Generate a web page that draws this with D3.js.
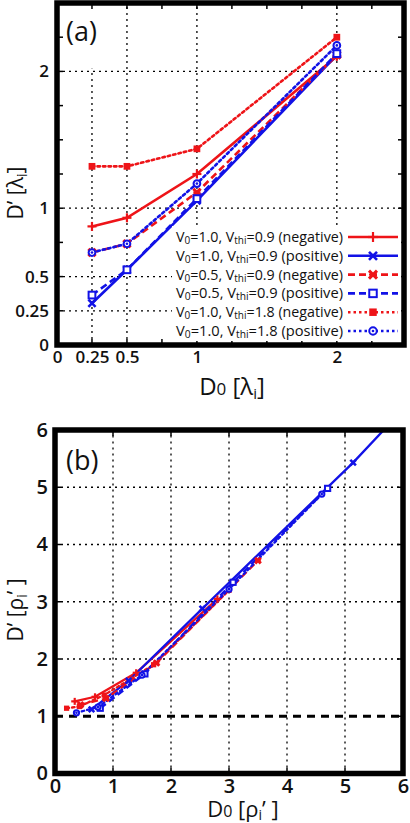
<!DOCTYPE html>
<html><head><meta charset="utf-8">
<script src="https://cdn.jsdelivr.net/npm/d3@7/dist/d3.min.js"></script>
<style>body{margin:0;background:#fff}svg{display:block}</style></head>
<body>
<svg id="c" width="410" height="823"></svg>
<script>
// ---------- DATA ----------
// Panel (a): D0 [lambda_i]
const aD0 = [0.25, 0.5, 1, 2];
const aNeg_V10_T09 = [0.867, 0.93, 1.25, 2.11];
const aPos_V10_T09 = [0.305, 0.55, 1.055, 2.12];
const aNeg_V05_T09 = [0.676, 0.74, 1.116, 2.12];
const aPos_V05_T09 = [0.365, 0.55, 1.07, 2.13];
const aNeg_V10_T18 = [1.306, 1.306, 1.434, 2.25];
const aPos_V10_T18 = [0.676, 0.74, 1.18, 2.19];

// Panel (b): D0 [rho_i'] and D' [rho_i']
const bX_Neg_V10_T09 = [0.34, 0.69, 1.4, 2.8];
const bY_Neg_V10_T09 = [1.26, 1.34, 1.76, 3.05];
const bX_Pos_V10_T09 = [0.63, 1.27, 2.54, 5.14, 5.9];
const bY_Pos_V10_T09 = [1.12, 1.62, 2.88, 5.43, 6.25];
const bX_Neg_V05_T09 = [0.44, 0.88, 1.75, 3.5];
const bY_Neg_V05_T09 = [1.2, 1.31, 1.93, 3.72];
const bX_Pos_V05_T09 = [0.78, 1.55, 3.07, 4.7];
const bY_Pos_V05_T09 = [1.14, 1.74, 3.34, 4.98];
const bX_Neg_V10_T18 = [0.2, 0.42, 0.85, 1.7, 3.0];
const bY_Neg_V10_T18 = [1.14, 1.17, 1.37, 1.9, 3.2];
const bX_Pos_V10_T18 = [0.37, 0.74, 1.5, 3.0, 4.6];
const bY_Pos_V10_T18 = [1.06, 1.16, 1.72, 3.22, 4.88];

// Legend
const legV0 = ["1.0", "1.0", "0.5", "0.5", "1.0", "1.0"];
const legVthi = ["0.9", "0.9", "0.9", "0.9", "1.8", "1.8"];
const legSign = ["negative", "positive", "negative", "positive", "negative", "positive"];

// Ticks
const aTickLabels = [0, 0.25, 0.5, 1, 2];
const aMinorTicks = [0.25, 0.5, 0.75, 1, 1.25, 1.5, 1.75, 2, 2.25];
const aGrid = [0.25, 0.5, 1, 2];
const bTickLabels = [0, 1, 2, 3, 4, 5, 6];

// ---------- STYLE ----------
const RED = "#ee1418", BLUE = "#1212e6";
const styles = [
  {c: RED,  dash: null,    m: "plus"},
  {c: BLUE, dash: null,    m: "cross"},
  {c: RED,  dash: "7,4",   m: "xbold"},
  {c: BLUE, dash: "7,4",   m: "square"},
  {c: RED,  dash: "2.5,3", m: "fsquare"},
  {c: BLUE, dash: "2.5,3", m: "circle"}
];
const aSeries = [aNeg_V10_T09, aPos_V10_T09, aNeg_V05_T09, aPos_V05_T09, aNeg_V10_T18, aPos_V10_T18];
const bSeriesX = [bX_Neg_V10_T09, bX_Pos_V10_T09, bX_Neg_V05_T09, bX_Pos_V05_T09, bX_Neg_V10_T18, bX_Pos_V10_T18];
const bSeriesY = [bY_Neg_V10_T09, bY_Pos_V10_T09, bY_Neg_V05_T09, bY_Pos_V05_T09, bY_Neg_V10_T18, bY_Pos_V10_T18];

const svg = d3.select("#c");
const FONT = "'Open Sans', 'DejaVu Sans', sans-serif";

function marker(g, x, y, type, c, s) {
  if (type === "plus") {
    g.append("line").attr("x1", x - s).attr("x2", x + s).attr("y1", y).attr("y2", y).attr("stroke", c).attr("stroke-width", 2.2);
    g.append("line").attr("x1", x).attr("x2", x).attr("y1", y - s).attr("y2", y + s).attr("stroke", c).attr("stroke-width", 2.2);
  } else if (type === "cross" || type === "xbold") {
    const k = s * 0.8, w = type === "xbold" ? 3 : 2.6;
    g.append("line").attr("x1", x - k).attr("x2", x + k).attr("y1", y - k).attr("y2", y + k).attr("stroke", c).attr("stroke-width", w);
    g.append("line").attr("x1", x - k).attr("x2", x + k).attr("y1", y + k).attr("y2", y - k).attr("stroke", c).attr("stroke-width", w);
    if (type === "xbold") g.append("line").attr("x1", x - k).attr("x2", x + k).attr("y1", y).attr("y2", y).attr("stroke", c).attr("stroke-width", 2);
  } else if (type === "square") {
    const k = s * 0.75;
    g.append("rect").attr("x", x - k).attr("y", y - k).attr("width", 2 * k).attr("height", 2 * k).attr("fill", "#fff").attr("stroke", c).attr("stroke-width", 2);
  } else if (type === "fsquare") {
    const k = s * 0.75;
    g.append("rect").attr("x", x - k).attr("y", y - k).attr("width", 2 * k).attr("height", 2 * k).attr("fill", c);
  } else if (type === "circle") {
    g.append("circle").attr("cx", x).attr("cy", y).attr("r", s * 0.75).attr("fill", "#fff").attr("stroke", c).attr("stroke-width", 2);
    g.append("circle").attr("cx", x).attr("cy", y).attr("r", 1.3).attr("fill", c);
  }
}

// ---------- PANEL (a) ----------
const ax = d3.scaleLinear().domain([0, 2.48]).range([57, 404]);
const ay = d3.scaleLinear().domain([0, 2.5]).range([345, 3]);
const ga = svg.append("g");

// grid
aGrid.forEach(v => {
  ga.append("line").attr("x1", ax(v)).attr("x2", ax(v)).attr("y1", ay(0)).attr("y2", ay(2.5))
    .attr("stroke", "#000").attr("stroke-width", 1.3).attr("stroke-dasharray", "2,4");
  ga.append("line").attr("y1", ay(v)).attr("y2", ay(v)).attr("x1", ax(0)).attr("x2", ax(2.48))
    .attr("stroke", "#000").attr("stroke-width", 1.3).attr("stroke-dasharray", "2,4");
});
// white box behind the panel label
ga.append("rect").attr("x", ax(0)).attr("y", ay(2.5)).attr("width", ax(0.4) - ax(0)).attr("height", ay(2.02) - ay(2.5)).attr("fill", "#fff");
// inner ticks
aMinorTicks.forEach(v => {
  ga.append("line").attr("x1", ax(v)).attr("x2", ax(v)).attr("y1", ay(0)).attr("y2", ay(0) - 6).attr("stroke", "#000").attr("stroke-width", 1.5);
  ga.append("line").attr("x1", ax(v)).attr("x2", ax(v)).attr("y1", ay(2.5)).attr("y2", ay(2.5) + 6).attr("stroke", "#000").attr("stroke-width", 1.5);
  ga.append("line").attr("y1", ay(v)).attr("y2", ay(v)).attr("x1", ax(0)).attr("x2", ax(0) + 6).attr("stroke", "#000").attr("stroke-width", 1.5);
  ga.append("line").attr("y1", ay(v)).attr("y2", ay(v)).attr("x1", ax(2.48)).attr("x2", ax(2.48) - 6).attr("stroke", "#000").attr("stroke-width", 1.5);
});

// series lines
const lineA = d3.line().x((d, i) => ax(aD0[i])).y(d => ay(d));
aSeries.forEach((s, i) => {
  const st = styles[i];
  ga.append("path").attr("d", lineA(s)).attr("fill", "none").attr("stroke", st.c).attr("stroke-width", 2.6)
    .attr("stroke-dasharray", st.dash).attr("stroke-linecap", st.dash === "2.5,3" ? "round" : "butt");
});
aSeries.forEach((s, i) => {
  s.forEach((v, j) => marker(ga, ax(aD0[j]), ay(v), styles[i].m, styles[i].c, 4.5));
});

// legend
ga.append("rect").attr("x", 172).attr("y", 226).attr("width", 229).attr("height", 115).attr("fill", "#fff");
legV0.forEach((v0, i) => {
  const yy = 237 + i * 18.8;
  const st = styles[i];
  let fs = 15.5;
  const t = ga.append("text").attr("x", 343).attr("y", yy + 5).attr("text-anchor", "end")
    .attr("font-family", FONT).attr("font-size", fs).attr("fill", "#111");
  t.append("tspan").text("V");
  t.append("tspan").attr("class", "sub").attr("font-size", fs * 0.7).attr("dy", 2).text("0");
  t.append("tspan").attr("dy", -2).text("=" + v0 + ", V");
  t.append("tspan").attr("class", "sub").attr("font-size", fs * 0.7).attr("dy", 2).text("thi");
  t.append("tspan").attr("dy", -2).text("=" + legVthi[i] + " (" + legSign[i] + ")");
  const w = t.node().getComputedTextLength();
  const target = 167;
  if (w > target) {
    fs = fs * target / w;
    t.attr("font-size", fs);
    t.selectAll("tspan.sub").attr("font-size", fs * 0.7);
  }
  ga.append("line").attr("x1", 348).attr("x2", 398).attr("y1", yy).attr("y2", yy)
    .attr("stroke", st.c).attr("stroke-width", 2.6).attr("stroke-dasharray", st.dash);
  marker(ga, 373, yy, st.m, st.c, 5);
});

// frame
ga.append("rect").attr("x", ax(0)).attr("y", ay(2.5)).attr("width", ax(2.48) - ax(0)).attr("height", ay(0) - ay(2.5))
  .attr("fill", "none").attr("stroke", "#000").attr("stroke-width", 5.5);

// tick labels via axes
const axB = d3.axisBottom(ax).tickValues(aTickLabels).tickSize(0).tickPadding(5).tickFormat(d3.format("~g"));
const gxa = ga.append("g").attr("transform", `translate(0,${ay(0) + 1})`).call(axB);
gxa.select(".domain").remove();
gxa.selectAll("text").attr("font-family", FONT).attr("font-size", 17).attr("font-weight", 600).attr("fill", "#111");
const ayL = d3.axisLeft(ay).tickValues(aTickLabels).tickSize(0).tickPadding(6).tickFormat(d3.format("~g"));
const gya = ga.append("g").attr("transform", `translate(${ax(0) - 2},0)`).call(ayL);
gya.select(".domain").remove();
gya.selectAll("text").attr("font-family", FONT).attr("font-size", 17).attr("font-weight", 600).attr("fill", "#111");

// panel label
ga.append("text").attr("x", 66).attr("y", 41).attr("font-family", FONT).attr("font-size", 27).attr("fill", "#111").text("(a)");

// axis titles
{
  const t = ga.append("text").attr("x", 232).attr("y", 395).attr("text-anchor", "middle")
    .attr("font-family", FONT).attr("font-size", 24).attr("fill", "#111");
  t.append("tspan").text("D");
  t.append("tspan").attr("font-size", 17).text("0");
  t.append("tspan").text(" [λ");
  t.append("tspan").attr("font-size", 15).attr("dy", 4).text("i");
  t.append("tspan").attr("dy", -4).text("]");
}
{
  const t = ga.append("text").attr("transform", "translate(23,193) rotate(-90)").attr("text-anchor", "middle")
    .attr("font-family", FONT).attr("font-size", 21).attr("fill", "#111");
  t.append("tspan").text("D’ [λ");
  t.append("tspan").attr("font-size", 14).attr("dy", 4).text("i");
  t.append("tspan").attr("dy", -4).text("]");
}

// ---------- PANEL (b) ----------
const bx = d3.scaleLinear().domain([0, 6]).range([55, 403]);
const by = d3.scaleLinear().domain([0, 6]).range([773.5, 430]);
const gb = svg.append("g");
svg.append("defs").append("clipPath").attr("id", "clipb").append("rect")
  .attr("x", bx(0)).attr("y", by(6)).attr("width", bx(6) - bx(0)).attr("height", by(0) - by(6));

[1, 2, 3, 4, 5].forEach(v => {
  gb.append("line").attr("x1", bx(v)).attr("x2", bx(v)).attr("y1", by(0)).attr("y2", by(6))
    .attr("stroke", "#000").attr("stroke-width", 1.3).attr("stroke-dasharray", "2,4");
  if (v !== 1) gb.append("line").attr("y1", by(v)).attr("y2", by(v)).attr("x1", bx(0)).attr("x2", bx(6))
    .attr("stroke", "#000").attr("stroke-width", 1.3).attr("stroke-dasharray", "2,4");
  gb.append("line").attr("x1", bx(v)).attr("x2", bx(v)).attr("y1", by(0)).attr("y2", by(0) - 6).attr("stroke", "#000").attr("stroke-width", 1.5);
  gb.append("line").attr("x1", bx(v)).attr("x2", bx(v)).attr("y1", by(6)).attr("y2", by(6) + 6).attr("stroke", "#000").attr("stroke-width", 1.5);
  gb.append("line").attr("y1", by(v)).attr("y2", by(v)).attr("x1", bx(0)).attr("x2", bx(0) + 6).attr("stroke", "#000").attr("stroke-width", 1.5);
  gb.append("line").attr("y1", by(v)).attr("y2", by(v)).attr("x1", bx(6)).attr("x2", bx(6) - 6).attr("stroke", "#000").attr("stroke-width", 1.5);
});
// reference line D' = 1
gb.append("line").attr("y1", by(1)).attr("y2", by(1)).attr("x1", bx(0)).attr("x2", bx(6))
  .attr("stroke", "#000").attr("stroke-width", 2.8).attr("stroke-dasharray", "8,6");

const gbl = gb.append("g").attr("clip-path", "url(#clipb)");
bSeriesX.forEach((xs, i) => {
  const st = styles[i];
  const ys = bSeriesY[i];
  const ln = d3.line().x((d, j) => bx(xs[j])).y((d, j) => by(ys[j]));
  gbl.append("path").attr("d", ln(xs)).attr("fill", "none").attr("stroke", st.c).attr("stroke-width", 2.3)
    .attr("stroke-dasharray", st.dash).attr("stroke-linecap", st.dash === "2.5,3" ? "round" : "butt");
});
bSeriesX.forEach((xs, i) => {
  xs.forEach((v, j) => marker(gbl, bx(v), by(bSeriesY[i][j]), styles[i].m, styles[i].c, 3.5));
});

gb.append("rect").attr("x", bx(0)).attr("y", by(6)).attr("width", bx(6) - bx(0)).attr("height", by(0) - by(6))
  .attr("fill", "none").attr("stroke", "#000").attr("stroke-width", 5.5);

const bxB = d3.axisBottom(bx).tickValues(bTickLabels).tickSize(0).tickPadding(3).tickFormat(d3.format("d"));
const gxb = gb.append("g").attr("transform", `translate(0,${by(0) + 2})`).call(bxB);
gxb.select(".domain").remove();
gxb.selectAll("text").attr("font-family", FONT).attr("font-size", 20).attr("font-weight", 600).attr("fill", "#111");
const byL = d3.axisLeft(by).tickValues(bTickLabels).tickSize(0).tickPadding(5).tickFormat(d3.format("d"));
const gyb = gb.append("g").attr("transform", `translate(${bx(0) - 2},0)`).call(byL);
gyb.select(".domain").remove();
gyb.selectAll("text").attr("font-family", FONT).attr("font-size", 20).attr("font-weight", 600).attr("fill", "#111");

gb.append("text").attr("x", 66).attr("y", 470).attr("font-family", FONT).attr("font-size", 27).attr("fill", "#111").text("(b)");

{
  const t = gb.append("text").attr("x", 243).attr("y", 817).attr("text-anchor", "middle")
    .attr("font-family", FONT).attr("font-size", 22).attr("fill", "#111");
  t.append("tspan").text("D");
  t.append("tspan").attr("font-size", 16).text("0");
  t.append("tspan").text(" [ρ");
  t.append("tspan").attr("font-size", 14).attr("dy", 3).text("i");
  t.append("tspan").attr("dy", -3).text("’ ]");
}
{
  const t = gb.append("text").attr("transform", "translate(23,610) rotate(-90)").attr("text-anchor", "middle")
    .attr("font-family", FONT).attr("font-size", 21).attr("fill", "#111");
  t.append("tspan").text("D’ [ρ");
  t.append("tspan").attr("font-size", 14).attr("dy", 4).text("i");
  t.append("tspan").attr("dy", -4).text("’ ]");
}
</script>
</body></html>
